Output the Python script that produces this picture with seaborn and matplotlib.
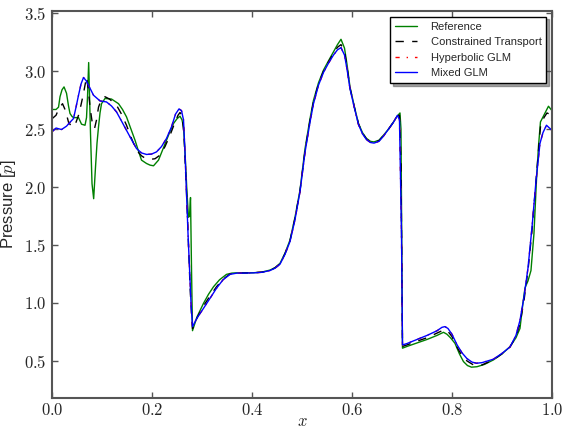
import numpy as np
import pandas as pd
import matplotlib
matplotlib.use('Agg')
import matplotlib.pyplot as plt
import seaborn as sns
from matplotlib.ticker import FuncFormatter

# values
ref_x = [0.0, 0.008, 0.013, 0.016, 0.020, 0.024, 0.029, 0.033, 0.036, 0.040, 0.043, 0.048, 0.053,
         0.059, 0.066, 0.069, 0.071, 0.0733, 0.075, 0.077, 0.080, 0.0833, 0.087, 0.090, 0.093,
         0.096, 0.099, 0.106, 0.119, 0.133, 0.141, 0.149, 0.158, 0.166, 0.173, 0.179, 0.189,
         0.196, 0.203, 0.213, 0.221, 0.229, 0.236, 0.243, 0.250, 0.256, 0.260, 0.263, 0.266,
         0.270, 0.273, 0.275, 0.277, 0.279, 0.281, 0.290, 0.303, 0.313, 0.323, 0.335, 0.349,
         0.360, 0.369, 0.385, 0.403, 0.420, 0.436, 0.446, 0.456, 0.466, 0.476, 0.486, 0.496,
         0.506, 0.516, 0.523, 0.533, 0.543, 0.553, 0.563, 0.571, 0.578, 0.585, 0.590, 0.596,
         0.605, 0.613, 0.621, 0.629, 0.637, 0.644, 0.654, 0.663, 0.673, 0.683, 0.690, 0.696,
         0.698, 0.701, 0.710, 0.730, 0.750, 0.770, 0.783, 0.790, 0.797, 0.806, 0.815, 0.823,
         0.831, 0.839, 0.850, 0.865, 0.883, 0.900, 0.916, 0.928, 0.936, 0.942, 0.946, 0.952,
         0.958, 0.964, 0.969, 0.973, 0.977, 0.985, 0.993, 1.0]
ref_p = [2.67, 2.67, 2.69, 2.78, 2.84, 2.865, 2.81, 2.70, 2.635, 2.61, 2.60, 2.60, 2.60,
         2.543, 2.534, 2.60, 2.78, 3.075, 2.80, 2.46, 2.03, 1.90, 2.175, 2.38, 2.52,
         2.64, 2.72, 2.765, 2.76, 2.72, 2.67, 2.606, 2.50, 2.405, 2.31, 2.233, 2.204,
         2.19, 2.184, 2.233, 2.32, 2.405, 2.48, 2.549, 2.59, 2.612, 2.58, 2.52, 2.30,
         1.95, 1.74, 1.75, 1.91, 1.30, 0.761, 0.88, 0.997, 1.075, 1.14, 1.20, 1.247,
         1.258, 1.26, 1.26, 1.261, 1.267, 1.284, 1.305, 1.342, 1.43, 1.543, 1.74, 1.974,
         2.33, 2.59, 2.75, 2.90, 3.01, 3.09, 3.167, 3.23, 3.276, 3.20, 3.06, 2.865,
         2.69, 2.549, 2.47, 2.42, 2.395, 2.39, 2.405, 2.448, 2.50, 2.563, 2.61, 2.64,
         2.50, 0.61, 0.625, 0.655, 0.685, 0.72, 0.747, 0.73, 0.70, 0.652, 0.56, 0.494,
         0.46, 0.446, 0.45, 0.47, 0.509, 0.56, 0.623, 0.70, 0.78, 1.00, 1.13, 1.19,
         1.28, 1.60, 2.06, 2.35, 2.563, 2.63, 2.698, 2.66]

ct_x = [0.0, 0.008, 0.014, 0.021, 0.027, 0.033, 0.038, 0.043, 0.048, 0.053, 0.058, 0.063,
        0.069, 0.073, 0.076, 0.080, 0.085, 0.089, 0.093, 0.099, 0.106, 0.115, 0.129, 0.139,
        0.149, 0.159, 0.169, 0.179, 0.188, 0.196, 0.206, 0.216, 0.226, 0.236, 0.246, 0.252,
        0.256, 0.260, 0.264, 0.267, 0.270, 0.273, 0.276, 0.279, 0.281, 0.290, 0.303, 0.316,
        0.329, 0.342, 0.356, 0.370, 0.385, 0.403, 0.420, 0.436, 0.446, 0.456, 0.466, 0.476,
        0.486, 0.496, 0.506, 0.516, 0.523, 0.533, 0.543, 0.553, 0.563, 0.571, 0.578, 0.585,
        0.590, 0.596, 0.605, 0.613, 0.621, 0.629, 0.637, 0.644, 0.654, 0.663, 0.673, 0.683,
        0.690, 0.695, 0.698, 0.701, 0.710, 0.730, 0.750, 0.770, 0.785, 0.792, 0.800, 0.810,
        0.820, 0.830, 0.845, 0.860, 0.883, 0.900, 0.916, 0.928, 0.936, 0.944, 0.952, 0.960,
        0.968, 0.977, 0.984, 0.990, 1.0]
ct_p = [2.59, 2.62, 2.68, 2.72, 2.66, 2.56, 2.53, 2.52, 2.56, 2.62, 2.71, 2.81,
        2.95, 2.83, 2.69, 2.57, 2.505, 2.58, 2.69, 2.76, 2.78, 2.76, 2.707, 2.63,
        2.534, 2.42, 2.319, 2.27, 2.245, 2.239, 2.245, 2.276, 2.35, 2.448, 2.56, 2.62,
        2.644, 2.62, 2.45, 2.15, 1.85, 1.50, 1.15, 0.90, 0.78, 0.87, 0.975, 1.06,
        1.14, 1.205, 1.25, 1.259, 1.259, 1.261, 1.266, 1.282, 1.303, 1.338, 1.425, 1.537,
        1.73, 1.967, 2.31, 2.575, 2.735, 2.89, 3.00, 3.08, 3.155, 3.207, 3.23, 3.17,
        3.04, 2.855, 2.685, 2.545, 2.465, 2.415, 2.39, 2.385, 2.40, 2.444, 2.50, 2.56,
        2.61, 2.62, 2.2, 0.625, 0.638, 0.67, 0.70, 0.74, 0.77, 0.755, 0.71, 0.62,
        0.545, 0.50, 0.46, 0.465, 0.51, 0.562, 0.62, 0.71, 0.82, 1.02, 1.28, 1.62,
        2.05, 2.52, 2.60, 2.64, 2.62]

mixed_x = [0.0, 0.008, 0.019, 0.029, 0.036, 0.043, 0.048, 0.053, 0.058, 0.063, 0.068, 0.073,
           0.083, 0.096, 0.109, 0.119, 0.129, 0.139, 0.149, 0.159, 0.169, 0.179, 0.189, 0.199,
           0.209, 0.219, 0.229, 0.239, 0.247, 0.254, 0.259, 0.263, 0.266, 0.269, 0.272, 0.275,
           0.278, 0.281, 0.290, 0.303, 0.316, 0.329, 0.342, 0.356, 0.370, 0.385, 0.403, 0.420,
           0.436, 0.446, 0.456, 0.466, 0.476, 0.486, 0.496, 0.506, 0.516, 0.523, 0.533, 0.543,
           0.553, 0.563, 0.571, 0.578, 0.585, 0.590, 0.596, 0.605, 0.613, 0.621, 0.629, 0.637,
           0.644, 0.654, 0.663, 0.673, 0.683, 0.691, 0.695, 0.699, 0.701, 0.710, 0.730, 0.750,
           0.770, 0.780, 0.786, 0.792, 0.800, 0.810, 0.820, 0.830, 0.840, 0.849, 0.860, 0.883,
           0.900, 0.916, 0.928, 0.936, 0.944, 0.952, 0.960, 0.968, 0.976, 0.982, 0.989, 0.995, 1.0]
mixed_p = [2.477, 2.51, 2.497, 2.526, 2.56, 2.592, 2.69, 2.793, 2.89, 2.946, 2.92, 2.879,
           2.793, 2.744, 2.735, 2.70, 2.649, 2.57, 2.49, 2.41, 2.333, 2.295, 2.282, 2.285,
           2.304, 2.35, 2.42, 2.52, 2.63, 2.675, 2.66, 2.58, 2.30, 1.95, 1.60, 1.30,
           1.00, 0.796, 0.87, 0.954, 1.04, 1.127, 1.20, 1.247, 1.258, 1.258, 1.26, 1.265,
           1.28, 1.30, 1.335, 1.42, 1.53, 1.72, 1.96, 2.30, 2.56, 2.72, 2.88, 2.99,
           3.07, 3.14, 3.185, 3.204, 3.14, 3.02, 2.85, 2.68, 2.54, 2.46, 2.41, 2.385,
           2.38, 2.395, 2.44, 2.50, 2.56, 2.62, 2.58, 1.60, 0.638, 0.65, 0.685, 0.72,
           0.76, 0.79, 0.796, 0.78, 0.73, 0.64, 0.57, 0.52, 0.49, 0.48, 0.485, 0.515,
           0.565, 0.62, 0.72, 0.85, 1.05, 1.30, 1.65, 2.05, 2.377, 2.47, 2.534, 2.51, 2.49]

# hyperbolic GLM sits almost exactly under the mixed GLM curve
hyp_x = mixed_x
hyp_p = mixed_p

series = [
    ('Reference', ref_x, ref_p, 'g', (None, None)),
    ('Constrained Transport', ct_x, ct_p, 'k', (6, 6)),
    ('Hyperbolic GLM', hyp_x, hyp_p, 'r', (3, 5, 1, 5)),
    ('Mixed GLM', mixed_x, mixed_p, 'b', (None, None)),
]

sns.set_style('ticks')
plt.rcParams['mathtext.fontset'] = 'cm'
plt.rcParams['font.family'] = ['Liberation Sans', 'DejaVu Sans']

fig = plt.figure(figsize=(5.63, 4.28), dpi=100)
ax = fig.add_axes([0.0924, 0.0701, 0.888, 0.9042])

for name, xs, ps, col, dash in series:
    df = pd.DataFrame({'x': xs, 'p': ps})
    line = sns.lineplot(data=df, x='x', y='p', ax=ax, color=col,
                        linewidth=1.0, label=name, sort=False).lines[-1]
    if dash[0] is not None:
        line.set_dashes(dash)

ax.set_xlim(0.0, 1.0)
ax.set_ylim(0.18, 3.52)
ax.set_xticks(np.arange(0, 1.01, 0.2))
ax.set_yticks(np.arange(0.5, 3.51, 0.5))
fmt = FuncFormatter(lambda v, pos: '$%.1f$' % v)
ax.xaxis.set_major_formatter(fmt)
ax.yaxis.set_major_formatter(fmt)
ax.tick_params(direction='in', top=True, right=True, length=4, width=1,
               color='#555555', labelsize=12, pad=4)
ax.tick_params(axis='x', pad=3)
for s in ax.spines.values():
    s.set_color('#555555')
    s.set_linewidth(1.5)

ax.set_xlabel('$x$', fontsize=12, labelpad=-3)
ax.set_ylabel('Pressure [$p$]', fontsize=12, labelpad=4)

leg = ax.legend(loc='upper right', fontsize=8, frameon=True, fancybox=False,
                shadow=True, handlelength=2.0, borderpad=0.45, labelspacing=0.5,
                handletextpad=1.2, borderaxespad=0.5)
leg.get_frame().set_edgecolor('black')
leg.get_frame().set_linewidth(1.0)

fig.savefig('out.png', dpi=100)
